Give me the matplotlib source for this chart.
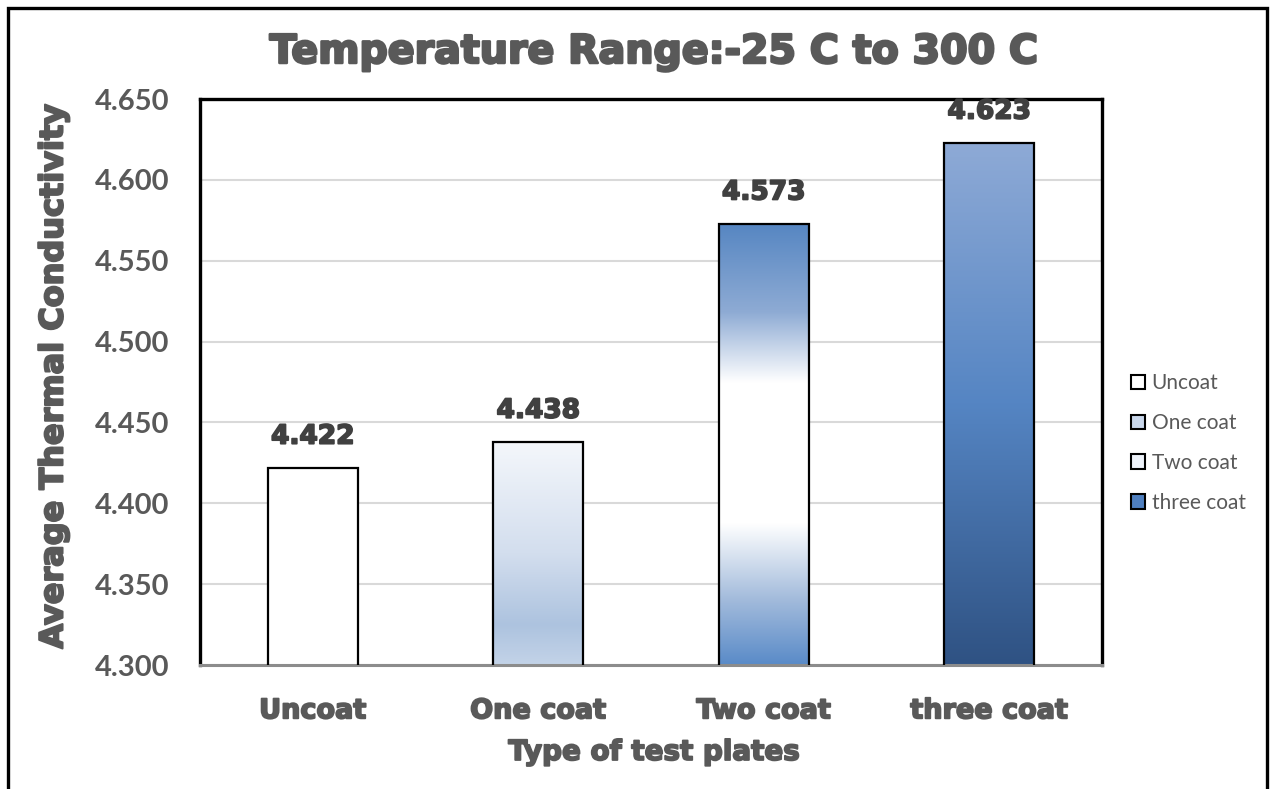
import numpy as np
import matplotlib
matplotlib.use("Agg")
import matplotlib.pyplot as plt
import matplotlib.patheffects as pe
from matplotlib.colors import to_rgb
from matplotlib.patches import Rectangle, Patch

# ---- data ----
categories = ["Uncoat", "One coat", "Two coat", "three coat"]
values = [4.422, 4.438, 4.573, 4.623]
value_labels = ["4.422", "4.438", "4.573", "4.623"]
y_ticks = [4.300, 4.350, 4.400, 4.450, 4.500, 4.550, 4.600, 4.650]

# gradient stops per bar (position from top, colour)
gradients = [
    [(0.0, "#ffffff"), (1.0, "#ffffff")],
    [(0.0, "#f4f7fb"), (0.5, "#d3deee"), (0.82, "#adc3df"), (1.0, "#c3d3e8")],
    [(0.0, "#5686c2"), (0.2, "#8eabd4"), (0.36, "#ffffff"), (0.68, "#ffffff"),
     (0.85, "#a4bcdc"), (1.0, "#5a8bc8")],
    [(0.0, "#8eaad6"), (0.5, "#5585c3"), (1.0, "#2f5283")],
]
legend_colors = ["#ffffff", "#c9d7eb", "#eef3fa", "#4f7fbf"]

heavy = "DejaVu Sans"
light = "Lato"
grey = "#595959"
dark = "#404040"


def bolder(color, w=1.3):
    # fake a black-weight font by stroking the glyphs
    return [pe.withStroke(linewidth=w, foreground=color)]


fig = plt.figure(figsize=(12.7, 7.89), dpi=100)
ax = fig.add_axes([200 / 1270, 1 - 665 / 789, 902 / 1270, 566 / 789])

x = np.arange(len(categories))
width = 0.40
ymin, ymax = 4.300, 4.650

for xi, v, stops in zip(x, values, gradients):
    pos = np.linspace(0, 1, 256)
    sp = [s[0] for s in stops]
    cols = np.array([to_rgb(s[1]) for s in stops])
    img = np.stack([np.interp(pos, sp, cols[:, c]) for c in range(3)], axis=-1)
    img = img[:, None, :]
    ax.imshow(img, extent=(xi - width / 2, xi + width / 2, ymin, v),
              aspect="auto", zorder=2, interpolation="bilinear")

bars = ax.bar(x, values, width=width, bottom=0, facecolor="none",
              edgecolor="black", linewidth=1.6, zorder=3)

for xi, v, lab in zip(x, values, value_labels):
    ax.annotate(lab, (xi, v), xytext=(0, 13), textcoords="offset points",
                ha="center", va="bottom", fontsize=19, fontweight="bold",
                family=heavy, color=dark, zorder=4,
                path_effects=bolder(dark))

ax.set_xlim(-0.5, 3.5)
ax.set_ylim(ymin, ymax)
ax.set_yticks(y_ticks)
ax.set_yticklabels([f"{t:.3f}" for t in y_ticks], fontsize=21,
                   fontweight="bold", family=light, color=grey)
ax.set_xticks(x)
ax.set_xticklabels(categories, fontsize=19.5, fontweight="bold",
                   family=heavy, color=grey)
for t in ax.get_xticklabels():
    t.set_path_effects(bolder(grey))
ax.tick_params(axis="both", length=0)
ax.tick_params(axis="y", pad=22)
ax.tick_params(axis="x", pad=24)

ax.yaxis.grid(True, color="#d9d9d9", linewidth=1.5, zorder=0)
ax.set_axisbelow(True)

for side in ["top", "left", "right"]:
    ax.spines[side].set_color("black")
    ax.spines[side].set_linewidth(2.4)
ax.spines["bottom"].set_color("#8c8c8c")
ax.spines["bottom"].set_linewidth(2.2)

fig.text(0.515, 1 - 52 / 789, "Temperature Range:-25 C to 300 C",
         ha="center", va="center", fontsize=28.5, fontweight="bold",
         family=heavy, color=grey, path_effects=bolder(grey, 1.8))
fig.text(0.515, 1 - 752 / 789, "Type of test plates", ha="center",
         va="center", fontsize=20, fontweight="bold", family=heavy, color=grey,
         path_effects=bolder(grey))
fig.text(54 / 1270, 1 - 376 / 789, "Average Thermal Conductivity",
         ha="center", va="center", rotation=90, fontsize=23,
         fontweight="bold", family=heavy, color=grey,
         path_effects=bolder(grey, 1.5))

handles = [Patch(facecolor=c, edgecolor="black", linewidth=1.5)
           for c in legend_colors]
leg = fig.legend(handles, categories, loc="center left",
                 bbox_to_anchor=(1112 / 1270, 1 - 443 / 789),
                 frameon=False, prop={"family": light, "size": 15},
                 labelspacing=0.95, handlelength=0.7, handleheight=0.7,
                 handletextpad=0.3)
for t in leg.get_texts():
    t.set_color(grey)

# outer chart border
fig.patches.append(Rectangle((8 / 1270, -0.05), 1259 / 1270, 1 - 8 / 789 + 0.05,
                             transform=fig.transFigure, fill=False,
                             edgecolor="black", linewidth=2.4))

fig.savefig("out.png", dpi=100)
